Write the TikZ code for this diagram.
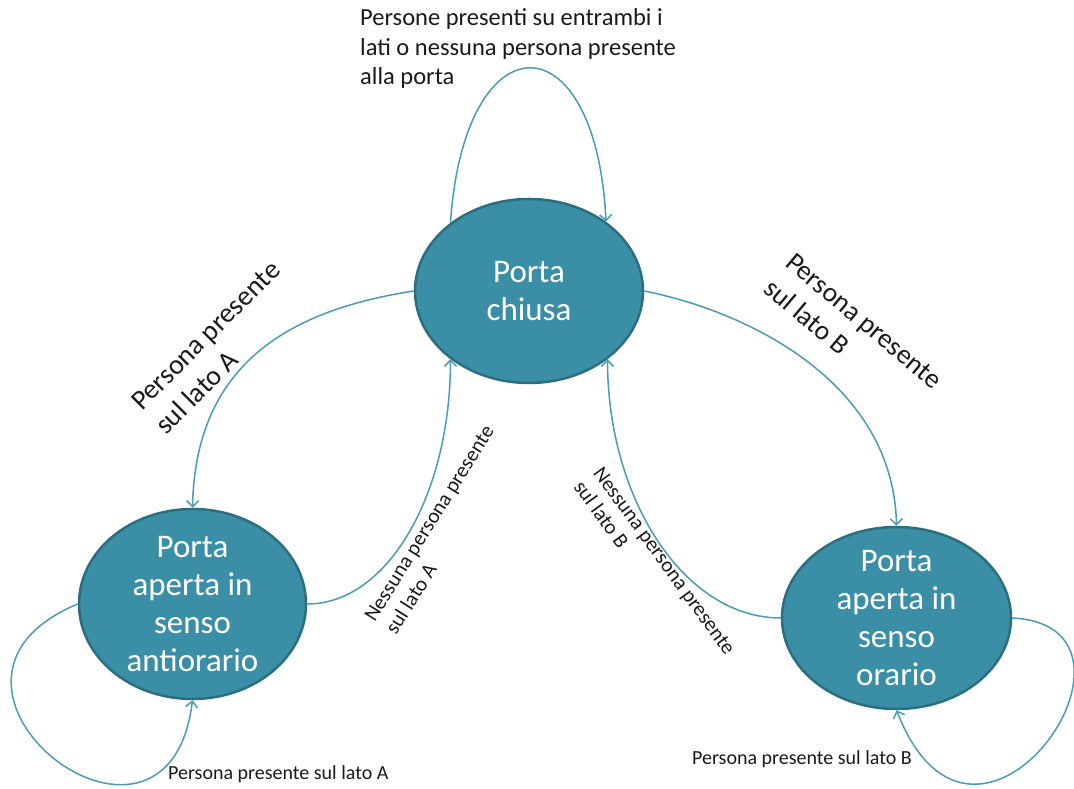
\documentclass[tikz,border=0pt]{standalone}
\usepackage{fontspec}
\setmainfont{Carlito}
\usetikzlibrary{positioning,shapes.geometric,arrows.meta}
\definecolor{stato}{HTML}{3A8FA7}
\definecolor{bordo}{HTML}{2B6E80}
\definecolor{freccia}{HTML}{4A9CB2}
\definecolor{testo}{HTML}{1A1A1A}
\tikzset{
  stato/.style={ellipse, fill=stato, draw=bordo, line width=2.5pt, text=white,
    align=center, inner sep=0pt, inner ysep=-8pt, font=\fontsize{33}{38}\selectfont},
  trans/.style={draw=freccia, line width=1.5pt, -{Straight Barb[length=6pt,width=12pt]}},
  lab/.style={text=testo, align=left, inner sep=0pt, anchor=base west},
}

\begin{document}
\begin{tikzpicture}[x=1pt, y=1pt]
    \useasboundingbox (0,0) rectangle (1074,789);
    \node[stato, minimum width=228pt, minimum height=184pt] (Ch) at (529,498) {Porta\\chiusa};
    \node[stato, minimum width=227pt, minimum height=190pt, below of=Ch, node distance=313pt, xshift=-336.5pt] (Ant) {Porta\\aperta in\\senso\\antiorario};
    \node[stato, minimum width=229pt, minimum height=182pt, below of=Ch, node distance=327pt, xshift=367.5pt] (Or) {Porta\\aperta in\\senso\\orario};
    \draw[trans] (Ch.139) .. controls +(14,206) and +(-10,205) .. (Ch.42);
    \draw[trans] (Ch.180) .. controls +(-130,-20) and +(3,140) .. (Ant.90);
    \draw[trans] (Ch.0) .. controls +(110,-22) and +(-3,140) .. (Or.90);
    \draw[trans] (Ant.0) .. controls +(80,0) and +(0,-136) .. (Ch.221);
    \draw[trans] (Or.180) .. controls +(-97,0) and +(0,-139) .. (Ch.319);
    \draw[trans] (Ant.180) .. controls +(-192,-80) and +(-25,-203) .. (Ant.270);
    \draw[trans] (Or.0) .. controls +(162,-8) and +(80,-205) .. (Or.270);
    % le etichette: ancorate alla base dell'ultima riga
    \node[lab, font=\fontsize{24.5}{29.5}\selectfont] (cicloCh) at (360,704) {Persone presenti su entrambi i\\lati o nessuna persona presente\\alla porta};
    \node[lab, rotate=45, font=\fontsize{28}{34}\selectfont] (versoAnt) at (166,353) {Persona presente\\sul lato A};
    \node[lab, rotate=-40, font=\fontsize{27.5}{34}\selectfont] (versoOr) at (762,498) {Persona presente\\sul lato B};
    \node[lab, rotate=58, font=\fontsize{21}{25}\selectfont] (daAnt) at (396,153) {Nessuna persona presente\\sul lato A};
    \node[lab, rotate=-54, font=\fontsize{21}{24}\selectfont] (daOr) at (573,302) {Nessuna persona presente\\sul lato B};
    \node[lab, font=\fontsize{20}{24}\selectfont] (cicloAnt) at (168,9) {Persona presente sul lato A};
    \node[lab, font=\fontsize{20}{24}\selectfont] (cicloOr) at (692,24) {Persona presente sul lato B};
\end{tikzpicture}
\end{document}
